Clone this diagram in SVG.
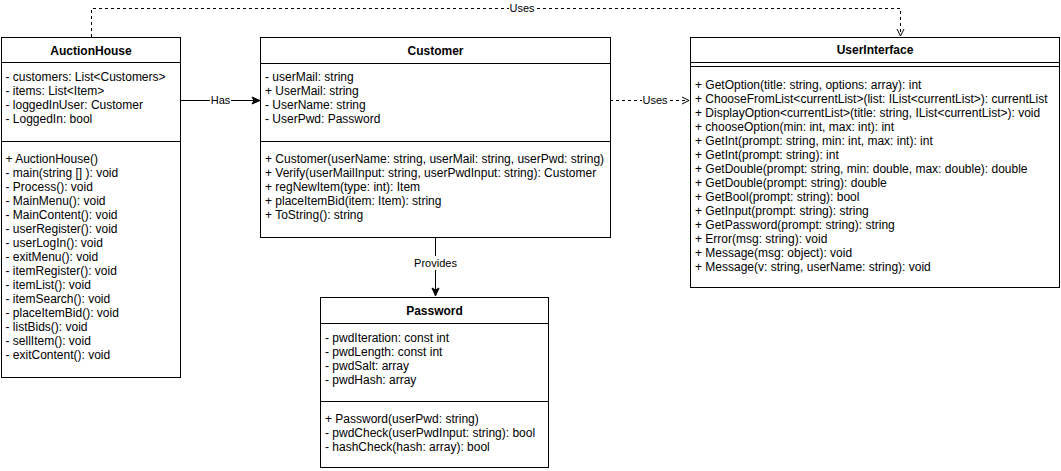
<svg xmlns="http://www.w3.org/2000/svg" width="1061" height="471" viewBox="0 0 1061 471">
  <style>
    .box { fill: #ffffff; stroke: #000000; stroke-width: 1; }
    .sep { stroke: #000000; stroke-width: 1; fill: none; }
    .title { font-family: "Liberation Sans", Arial, sans-serif; font-size: 12px; font-weight: bold; text-anchor: middle; fill: #000; }
    .item { font-family: "Liberation Sans", Arial, sans-serif; font-size: 12px; fill: #000; }
    .lbl { font-family: "Liberation Sans", Arial, sans-serif; font-size: 11px; fill: #000; text-anchor: middle; }
    .solid { stroke: #000; stroke-width: 1; fill: none; }
    .dash { stroke: #000; stroke-width: 1; fill: none; stroke-dasharray: 3 3; }
    .bg { fill: #ffffff; }
  </style>
  <defs>
    <marker id="filled" markerWidth="10" markerHeight="10" refX="9" refY="5" orient="auto" markerUnits="userSpaceOnUse">
      <path d="M1,1.5 L9,5 L1,8.5 L3,5 Z" fill="#000" stroke="#000" stroke-width="1"/>
    </marker>
    <marker id="open" markerWidth="10" markerHeight="10" refX="9" refY="5" orient="auto" markerUnits="userSpaceOnUse">
      <path d="M2,1.5 L9,5 L2,8.5" fill="none" stroke="#000" stroke-width="1"/>
    </marker>
  </defs>

  <rect width="1061" height="471" fill="#ffffff"/>

  <!-- connectors -->
  <g id="connectors">
    <!-- AuctionHouse has Customer -->
    <path class="solid" d="M181,100.5 H260" marker-end="url(#filled)"/>
    <rect class="bg" x="210" y="94" width="21" height="13"/>
    <text class="lbl" x="220.5" y="104">Has</text>

    <!-- Customer uses UserInterface -->
    <path class="dash" d="M610,100.5 H689" marker-end="url(#open)"/>
    <rect class="bg" x="642" y="94" width="26" height="13"/>
    <text class="lbl" x="655" y="104">Uses</text>

    <!-- AuctionHouse uses UserInterface -->
    <path class="dash" d="M91.5,37 V8.5 H900.5 V36" marker-end="url(#open)"/>
    <rect class="bg" x="509" y="2" width="26" height="13"/>
    <text class="lbl" x="522" y="12">Uses</text>

    <!-- Customer provides Password -->
    <path class="solid" d="M435.5,237 V296" marker-end="url(#filled)"/>
    <rect class="bg" x="412" y="256" width="47" height="14"/>
    <text class="lbl" x="435.5" y="267">Provides</text>
  </g>

  <!-- AuctionHouse -->
  <g id="AuctionHouse">
    <rect class="box" x="1.5" y="37.5" width="179" height="340"/>
    <line class="sep" x1="1.5" y1="62.5" x2="180.5" y2="62.5"/>
    <line class="sep" x1="1.5" y1="141.5" x2="180.5" y2="141.5"/>
    <text class="title" x="91" y="55">AuctionHouse</text>
    <text class="item" x="5.5" y="81">- customers: List&lt;Customers&gt;</text>
    <text class="item" x="5.5" y="95">- items: List&lt;Item&gt;</text>
    <text class="item" x="5.5" y="109">- loggedInUser: Customer</text>
    <text class="item" x="5.5" y="123">- LoggedIn: bool</text>
    <text class="item" x="5.5" y="163">+ AuctionHouse()</text>
    <text class="item" x="5.5" y="177">- main(string [] ): void</text>
    <text class="item" x="5.5" y="191">- Process(): void</text>
    <text class="item" x="5.5" y="205">- MainMenu(): void</text>
    <text class="item" x="5.5" y="219">- MainContent(): void</text>
    <text class="item" x="5.5" y="233">- userRegister(): void</text>
    <text class="item" x="5.5" y="247">- userLogIn(): void</text>
    <text class="item" x="5.5" y="261">- exitMenu(): void</text>
    <text class="item" x="5.5" y="275">- itemRegister(): void</text>
    <text class="item" x="5.5" y="289">- itemList(): void</text>
    <text class="item" x="5.5" y="303">- itemSearch(): void</text>
    <text class="item" x="5.5" y="317">- placeItemBid(): void</text>
    <text class="item" x="5.5" y="331">- listBids(): void</text>
    <text class="item" x="5.5" y="345">- sellItem(): void</text>
    <text class="item" x="5.5" y="359">- exitContent(): void</text>
  </g>

  <!-- Customer -->
  <g id="Customer">
    <rect class="box" x="260.5" y="37.5" width="350" height="200"/>
    <line class="sep" x1="260.5" y1="63.5" x2="610.5" y2="63.5"/>
    <line class="sep" x1="260.5" y1="141.5" x2="610.5" y2="141.5"/>
    <text class="title" x="435.5" y="55">Customer</text>
    <text class="item" x="265" y="81">- userMail: string</text>
    <text class="item" x="265" y="95">+ UserMail: string</text>
    <text class="item" x="265" y="109">- UserName: string</text>
    <text class="item" x="265" y="123">- UserPwd: Password</text>
    <text class="item" x="265" y="163">+ Customer(userName: string, userMail: string, userPwd: string)</text>
    <text class="item" x="265" y="177">+ Verify(userMailInput: string, userPwdInput: string): Customer</text>
    <text class="item" x="265" y="191">+ regNewItem(type: int): Item</text>
    <text class="item" x="265" y="205">+ placeItemBid(item: Item): string</text>
    <text class="item" x="265" y="219">+ ToString(): string</text>
  </g>

  <!-- Password -->
  <g id="Password">
    <rect class="box" x="320.5" y="297.5" width="228" height="170"/>
    <line class="sep" x1="320.5" y1="323.5" x2="548.5" y2="323.5"/>
    <line class="sep" x1="320.5" y1="401.5" x2="548.5" y2="401.5"/>
    <text class="title" x="434.5" y="315">Password</text>
    <text class="item" x="325" y="342">- pwdIteration: const int</text>
    <text class="item" x="325" y="356">- pwdLength: const int</text>
    <text class="item" x="325" y="370">- pwdSalt: array</text>
    <text class="item" x="325" y="384">- pwdHash: array</text>
    <text class="item" x="325" y="423">+ Password(userPwd: string)</text>
    <text class="item" x="325" y="437">- pwdCheck(userPwdInput: string): bool</text>
    <text class="item" x="325" y="451">- hashCheck(hash: array): bool</text>
  </g>

  <!-- UserInterface -->
  <g id="UserInterface">
    <rect class="box" x="690.5" y="37.5" width="369" height="250"/>
    <line class="sep" x1="690.5" y1="62.5" x2="1059.5" y2="62.5"/>
    <line class="sep" x1="690.5" y1="66.5" x2="1059.5" y2="66.5"/>
    <text class="title" x="875" y="54">UserInterface</text>
    <text class="item" x="695" y="89">+ GetOption(title: string, options: array): int</text>
    <text class="item" x="695" y="103">+ ChooseFromList&lt;currentList&gt;(list: IList&lt;currentList&gt;): currentList</text>
    <text class="item" x="695" y="117">+ DisplayOption&lt;currentList&gt;(title: string, IList&lt;currentList&gt;): void</text>
    <text class="item" x="695" y="131">+ chooseOption(min: int, max: int): int</text>
    <text class="item" x="695" y="145">+ GetInt(prompt: string, min: int, max: int): int</text>
    <text class="item" x="695" y="159">+ GetInt(prompt: string): int</text>
    <text class="item" x="695" y="173">+ GetDouble(prompt: string, min: double, max: double): double</text>
    <text class="item" x="695" y="187">+ GetDouble(prompt: string): double</text>
    <text class="item" x="695" y="201">+ GetBool(prompt: string): bool</text>
    <text class="item" x="695" y="215">+ GetInput(prompt: string): string</text>
    <text class="item" x="695" y="229">+ GetPassword(prompt: string): string</text>
    <text class="item" x="695" y="243">+ Error(msg: string): void</text>
    <text class="item" x="695" y="257">+ Message(msg: object): void</text>
    <text class="item" x="695" y="271">+ Message(v: string, userName: string): void</text>
  </g>
</svg>
